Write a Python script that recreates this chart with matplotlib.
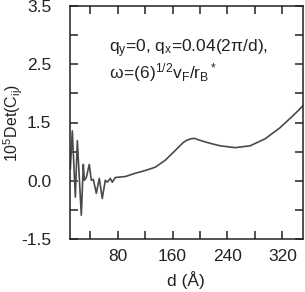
import numpy as np
import matplotlib
matplotlib.use("Agg")
import matplotlib.pyplot as plt

plt.rcParams['font.family'] = ['Liberation Sans', 'DejaVu Sans']
plt.rcParams['mathtext.fontset'] = 'custom'
plt.rcParams['mathtext.rm'] = 'Liberation Sans'
plt.rcParams['mathtext.it'] = 'Liberation Sans'

# curve
d = [11.2, 14.1, 18.5, 21.4, 27.2, 30.1, 31.6, 34.5, 38.8, 41.7, 44.7, 49.0,
     53.4, 57.7, 62.1, 65.0, 69.4, 72.3, 76.7, 91.2, 105.7, 120.3, 134.8,
     149.4, 163.9, 175.6, 181.0, 186.5, 192.0, 197.4, 206.0, 215.6, 229.4,
     251.2, 273.0, 294.8, 316.7, 338.5, 350.0]
det = [0.00, 0.82, -0.60, 0.61, -0.99, 0.10, -0.24, -0.18, 0.10, -0.24, -0.22,
       -0.52, -0.20, -0.63, -0.24, -0.28, -0.20, -0.28, -0.18, -0.16, -0.09,
       -0.03, 0.04, 0.19, 0.40, 0.57, 0.62, 0.65, 0.66, 0.63, 0.59, 0.55, 0.50,
       0.46, 0.50, 0.65, 0.89, 1.19, 1.36]

xticks = [40, 80, 120, 160, 200, 240, 280, 320]
xlabels = ['', '80', '', '160', '', '240', '', '320']
ylabels = ['-1.5', '', '0.0', '', '1.5', '', '2.5', '', '3.5']

fig = plt.figure(figsize=(3.05, 2.92), dpi=100)
ax = fig.add_axes([69.5/305, 53/292, 233.5/305, 233/292])

ax.plot(d, det, color='#4a4a4a', lw=1.2)

ax.set_xlim(10, 350)
ax.set_ylim(-1.5, 3.5)
ax.set_xticks(xticks)
ax.set_xticklabels(xlabels)
ax.set_yticks(np.linspace(-1.5, 3.5, 9))
ax.set_yticklabels(ylabels)
ax.tick_params(direction='in', length=5.5, width=1.1, top=True, right=True,
               labelsize=12.5, colors='#222222')
ax.tick_params(axis='y', pad=13)
ax.tick_params(axis='x', pad=7)
for s in ax.spines.values():
    s.set_linewidth(1.1)
    s.set_color('#222222')

ax.set_xlabel('d (Å)', fontsize=12.5, color='#222222', labelpad=5)
ax.set_ylabel(r'10$^5$Det(C$_{ij}$)', fontsize=11.5, color='#222222')
ax.yaxis.set_label_coords(-0.19, 0.5)

ax.text(0.168, 0.815, r'q$_y$=0, q$_x$=0.04(2$\pi$/d),', transform=ax.transAxes,
        fontsize=12.5, color='#222222', va='center')
ax.text(0.168, 0.715, r'$\omega\!=\!\mathrm{(6)}^{1/2}\mathrm{v}_F\mathrm{/r}_B{}^*$',
        transform=ax.transAxes, fontsize=12.5, color='#222222', va='center')

fig.savefig('out.png', dpi=100)
